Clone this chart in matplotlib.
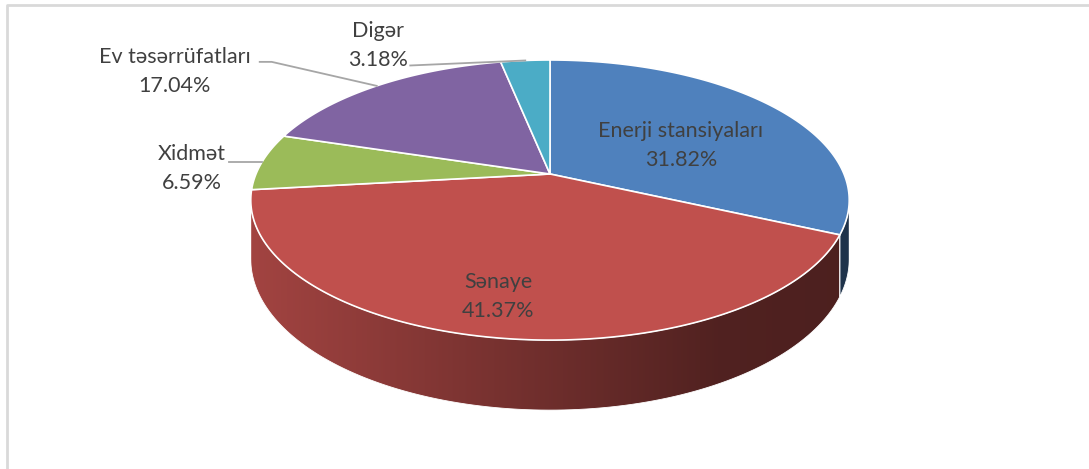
import numpy as np
import matplotlib.pyplot as plt
from matplotlib.patches import Polygon

# data
labels = ['Enerji stansiyaları', 'Sənaye', 'Xidmət', 'Ev təsərrüfatları', 'Digər']
shares = [31.82, 41.37, 6.59, 17.04, 3.18]
colors = ['#4F81BD', '#C0504D', '#9BBB59', '#8064A2', '#4BACC6']

# layout of the 3d pie (pixel units)
CX, CY = 550, 174
A, B, K = 294, 135.2, 0.186
DEPTH = 57
TEXT = '#404040'
FONT = 'Lato'
FS = 15.5

# label placement: inside -> (radius frac, dx, dy); outside -> text offset + leader points
label_layout = {
    'Enerji stansiyaları': dict(kind='in', r=0.55, off=(2, 10)),
    'Sənaye': dict(kind='in', r=0.75, off=(-12, 6)),
    'Xidmət': dict(kind='out', off=(-70, 7), leader=[(-33, 0)]),
    'Ev təsərrüfatları': dict(kind='out', off=(-202, -14), leader=[(-105, -24), (-117, -24)]),
    'Digər': dict(kind='out', off=(-147, -15), leader=[(-115, 5)]),
}


def project(theta, r=1.0, z=0.0):
    u = r * np.cos(theta)
    v = r * np.sin(theta)
    w = 1 + K * v
    return CX + A * u / w, CY - B * v / w + z * DEPTH / w


def shade(x):
    return np.interp(x, [CX - A, CX + 170, CX + A], [0.84, 0.42, 0.40])


fig = plt.figure(figsize=(10.89, 4.69), dpi=100)
ax = fig.add_axes([0, 0, 1, 1])
ax.set_xlim(0, 1089)
ax.set_ylim(469, 0)
ax.axis('off')

# chart border (only top/left visible)
ax.plot([7, 7, 1089], [469, 5, 5], color='#D9D9D9', lw=2, solid_capstyle='butt')

fracs = np.array(shares) / sum(shares)
starts = np.pi / 2 - 2 * np.pi * np.concatenate([[0], np.cumsum(fracs)[:-1]])
ends = starts - 2 * np.pi * fracs

vis_hi = -np.arcsin(K)
vis_lo = -np.pi + np.arcsin(K)

# side walls
gx = np.linspace(CX - A - 5, CX + A + 5, 400)
for t0, t1, c in zip(starts, ends, colors):
    hi = min(t0, vis_hi)
    lo = max(t1, vis_lo)
    if hi <= lo:
        continue
    th = np.linspace(hi, lo, 120)
    xt, yt = project(th)
    xb, yb = project(th[::-1], z=1)
    pts = np.column_stack([np.concatenate([xt, xb]), np.concatenate([yt, yb])])
    poly = Polygon(pts, closed=True, facecolor='none', edgecolor='white', lw=0.6, zorder=2)
    ax.add_patch(poly)
    rgb = np.array(plt.matplotlib.colors.to_rgb(c))
    img = np.clip(shade(gx)[None, :, None] * rgb[None, None, :], 0, 1)
    im = ax.imshow(img, extent=[gx[0], gx[-1], 469, 0], aspect='auto', zorder=1,
                   interpolation='bilinear')
    im.set_clip_path(poly)

# top face
for t0, t1, c in zip(starts, ends, colors):
    th = np.linspace(t0, t1, 200)
    xs, ys = project(th)
    pts = np.column_stack([np.concatenate([[CX], xs]), np.concatenate([[CY], ys])])
    ax.add_patch(Polygon(pts, closed=True, facecolor=c, edgecolor='white', lw=1.2,
                         joinstyle='round', zorder=3))

# labels
for name, share, t0, t1 in zip(labels, shares, starts, ends):
    lay = label_layout[name]
    mid = (t0 + t1) / 2
    if lay['kind'] == 'in':
        x, y = project(mid, lay['r'])
    else:
        x, y = project(mid)
        lx = [x] + [x + dx for dx, dy in lay['leader']]
        ly = [y] + [y + dy for dx, dy in lay['leader']]
        ax.plot(lx, ly, color='#A6A6A6', lw=1.3, zorder=4)
    tx, ty = x + lay['off'][0], y + lay['off'][1]
    ax.text(tx, ty - 14.5, name, ha='center', va='center', fontsize=FS,
            family=FONT, color=TEXT, zorder=5)
    ax.text(tx, ty + 14.5, f'{share:.2f}%', ha='center', va='center', fontsize=FS,
            family=FONT, color=TEXT, zorder=5)

fig.savefig('out.png', dpi=100)
